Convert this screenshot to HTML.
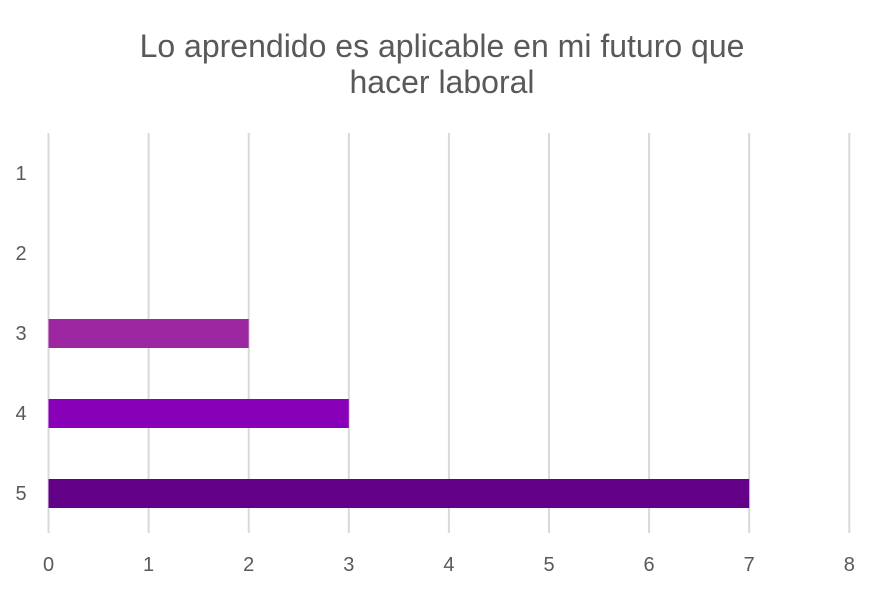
<!DOCTYPE html>
<html><head><meta charset="utf-8"><style>
body{margin:0;background:#fff;}
svg text{font-family:"Liberation Sans",Arial,sans-serif;fill:#595959;}
</style></head><body>
<svg id="chart" width="884" height="589" viewBox="0 0 884 589" xmlns="http://www.w3.org/2000/svg">
<text x="442" y="57" font-size="32" text-anchor="middle">Lo aprendido es aplicable en mi futuro que</text>
<text x="442" y="93" font-size="32" text-anchor="middle">hacer laboral</text>
<g id="grid"></g><g id="bars"></g><g id="labels"></g>
</svg>
<script>
const categories=["1","2","3","4","5"];
const values=[0,0,2,3,7];
const xTicks=[0,1,2,3,4,5,6,7,8];
const colors=["#9c27a0","#9c27a0","#9c27a0","#8800b8","#620088"];
const NS="http://www.w3.org/2000/svg";
const x0=48.5,unit=100.1,plotTop=133,plotBottom=533,band=80;
function xs(v){return x0+v*unit;}
function yc(i){return plotTop+band*i+band/2;}
const grid=document.getElementById('grid'),bars=document.getElementById('bars'),labels=document.getElementById('labels');
xTicks.forEach(t=>{
 const l=document.createElementNS(NS,'line');
 
 
 l.setAttribute('x1',xs(t));l.setAttribute('x2',xs(t));l.setAttribute('y1',plotTop);l.setAttribute('y2',plotBottom);
 l.setAttribute('stroke','#d9d9d9');l.setAttribute('stroke-width','2');
 grid.appendChild(l);
 const tx=document.createElementNS(NS,'text');
 
 
 tx.setAttribute('x',xs(t));tx.setAttribute('y',571);tx.setAttribute('font-size','20');tx.setAttribute('text-anchor','middle');
 tx.textContent=t;labels.appendChild(tx);
});
categories.forEach((c,i)=>{
 const tx=document.createElementNS(NS,'text');
 
 
 tx.setAttribute('x',21);tx.setAttribute('y',yc(i)+7);tx.setAttribute('font-size','20');tx.setAttribute('text-anchor','middle');
 tx.textContent=c;labels.appendChild(tx);
 if(values[i]>0){
  const r=document.createElementNS(NS,'rect');
  
  
  r.setAttribute('x',xs(0));r.setAttribute('y',yc(i)-14);r.setAttribute('width',xs(values[i])-xs(0));r.setAttribute('height',29);
  r.setAttribute('fill',colors[i]);bars.appendChild(r);
 }
});
</script>
</body></html>
